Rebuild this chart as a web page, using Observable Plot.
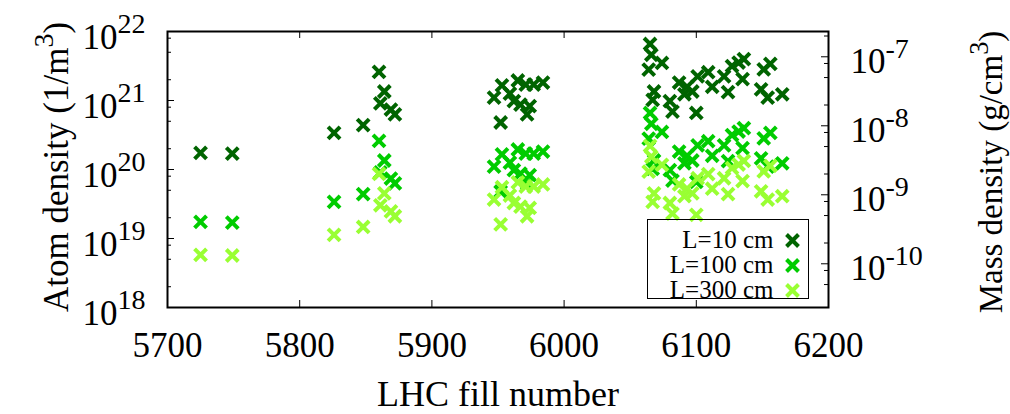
<!DOCTYPE html>
<html><head><meta charset="utf-8">
<script src="https://cdn.jsdelivr.net/npm/d3@7"></script>
<script src="https://cdn.jsdelivr.net/npm/@observablehq/plot@0.6"></script>
<style>html,body{margin:0;padding:0;background:#fff;} #chart{width:1010px;height:414px;}</style>
</head><body><div id="chart"></div>
<script>
// ---- data ----
const fills = [5725,5749, 5826,5848,5860,5864,5861,5869,5872,
  5947,5952,5953,5959,5962,5965,5967,5971,5972,5974,5977,5984,
  6065,6066,6074,6064,6068,6067,6080,6082,6087,6091,6093,6097,6101,6100,6109,6112,6121,6124,6127,6132,6135,6136,6151,6149,6154,6165,6156];
const atomL10 = [1.74e20,1.70e20, 3.4e20,4.4e20,2.6e21,1.35e21,9.1e20,7.4e20,6.3e20,
  1.10e21,4.8e20,1.66e21,1.26e21,9.8e20,1.95e21,8.7e20,1.70e21,6.3e20,8.3e20,1.70e21,1.82e21,
  6.6e21,4.6e21,3.5e21,2.8e21,1.35e21,1.02e21,9.8e20,6.9e20,1.82e21,1.23e21,1.58e21,1.35e21,2.24e21,6.6e20,2.57e21,1.58e21,2.24e21,1.32e21,3.16e21,3.55e21,2.04e21,3.98e21,2.82e21,1.45e21,1.10e21,1.23e21,3.39e21];
const atomL100 = [1.74e19,1.70e19, 3.4e19,4.4e19,2.6e20,1.35e20,9.1e19,7.4e19,6.3e19,
  1.10e20,4.8e19,1.66e20,1.26e20,9.8e19,1.95e20,8.7e19,1.70e20,6.3e19,8.3e19,1.70e20,1.82e20,
  6.6e20,4.6e20,3.5e20,2.8e20,1.35e20,1.02e20,9.8e19,6.9e19,1.82e20,1.23e20,1.58e20,1.35e20,2.24e20,6.6e19,2.57e20,1.58e20,2.24e20,1.32e20,3.16e20,3.55e20,2.04e20,3.98e20,2.82e20,1.45e20,1.10e20,1.23e20,3.39e20];
const atomL300 = [5.8e18,5.67e18, 1.13e19,1.47e19,8.67e19,4.5e19,3.03e19,2.47e19,2.1e19,
  3.67e19,1.6e19,5.53e19,4.2e19,3.27e19,6.5e19,2.9e19,5.67e19,2.1e19,2.77e19,5.67e19,6.07e19,
  2.2e20,1.53e20,1.17e20,9.33e19,4.5e19,3.4e19,3.27e19,2.3e19,6.07e19,4.1e19,5.27e19,4.5e19,7.47e19,2.2e19,8.57e19,5.27e19,7.47e19,4.4e19,1.05e20,1.18e20,6.8e19,1.33e20,9.4e19,4.83e19,3.67e19,4.1e19,1.13e20];
const seriesNames = ["L=10 cm", "L=100 cm", "L=300 cm"];
const seriesColors = ["#006400", "#00cc00", "#99ff33"];
const xTicks = [5700, 5800, 5900, 6000, 6100, 6200];
const yExponents = [18, 19, 20, 21, 22];
const y2Exponents = [-10, -9, -8, -7];
const minorMultipliers = [2, 5, 8];
const gramPerAtom = 2.325e-23; // conversion atom density -> mass density
const xTitle = "LHC fill number";
const yTitle = "Atom density (1/m^{3})";
const y2Title = "Mass density (g/cm^{3})";
// ---- layout ----
const W = 1010, H = 414, mL = 167, mR = 182, mT = 31, mB = 107;
const innerW = W - mL - mR, innerH = H - mT - mB;
const serif = "Liberation Serif, Times New Roman, serif";

const seriesValues = [atomL10, atomL100, atomL300];
const rows = seriesNames.flatMap((s, k) => fills.map((f, i) => ({fill: f, atom: seriesValues[k][i], series: s})));
const atomFromMass = m => m / (gramPerAtom * 1e-6);
const yMajor = yExponents.map(e => Math.pow(10, e));
const yMinor = yExponents.slice(0, -1).flatMap(e => minorMultipliers.map(k => k * Math.pow(10, e)));
const y2Major = y2Exponents.map(e => atomFromMass(Math.pow(10, e)));
const y2Minor = [y2Exponents[0] - 1, ...y2Exponents].flatMap(e => minorMultipliers.map(k => atomFromMass(k * Math.pow(10, e))))
  .filter(v => v >= 1e18 && v <= 1e22);
const legendTextDy = [-60, -35, -10];
const legendDotDy = [-67, -42, -17];

const chart = Plot.plot({
  width: W, height: H,
  marginLeft: mL, marginRight: mR, marginTop: mT, marginBottom: mB,
  style: {fontFamily: serif, background: "#fff", color: "#000", overflow: "visible"},
  x: {domain: [5700, 6200], axis: null},
  y: {type: "log", domain: [1e18, 1e22], axis: null},
  color: {domain: seriesNames, range: seriesColors},
  marks: [
    Plot.dot(rows, {x: "fill", y: "atom", stroke: "series", symbol: "times", r: 5.5, strokeWidth: 4}),
    Plot.frame({stroke: "#000", strokeWidth: 2}),
    Plot.tickX(xTicks, {x: d => d, insetTop: innerH - 7, stroke: "#000"}),
    Plot.tickX(xTicks, {x: d => d, insetBottom: innerH - 7, stroke: "#000"}),
    Plot.tickY(yMajor, {y: d => d, insetRight: innerW - 7, stroke: "#000"}),
    Plot.tickY(yMinor, {y: d => d, insetRight: innerW - 4, stroke: "#000"}),
    Plot.tickY(y2Major, {y: d => d, insetLeft: innerW - 7, stroke: "#000"}),
    Plot.tickY(y2Minor, {y: d => d, insetLeft: innerW - 4, stroke: "#000"}),
    Plot.text(xTicks, {x: d => d, text: d => String(d), frameAnchor: "bottom", dy: 49, fontSize: 35, fill: "#000"}),
    Plot.text(yMajor, {y: d => d, text: (d, i) => `10^{${yExponents[i]}}`, frameAnchor: "left", textAnchor: "end", dx: -22, dy: 6, fontSize: 35, fill: "#000"}),
    Plot.text(y2Major, {y: d => d, text: (d, i) => `10^{${y2Exponents[i]}}`, frameAnchor: "right", textAnchor: "start", dx: 22, dy: 5, fontSize: 35, fill: "#000"}),
    Plot.text([xTitle], {x: null, y: null, text: d => d, frameAnchor: "bottom", dy: 98, fontSize: 36, fill: "#000"}),
    Plot.text([yTitle], {x: null, y: null, text: d => d, frameAnchor: "left", rotate: -90, fontSize: 35, fill: "#000"}),
    Plot.text([y2Title], {x: null, y: null, text: d => d, frameAnchor: "right", rotate: -90, fontSize: 33, fill: "#000"}),
    Plot.frame({insetLeft: 480, insetTop: 188, insetRight: 20, insetBottom: 9, stroke: "#000", strokeWidth: 1}),
    ...seriesNames.flatMap((s, i) => [
      Plot.text([s], {x: null, y: null, text: d => d, frameAnchor: "bottom-right", textAnchor: "end", dx: -55, dy: legendTextDy[i], fontSize: 25, fill: "#000"}),
      Plot.dot([s], {x: null, y: null, frameAnchor: "bottom-right", dx: -36, dy: legendDotDy[i], stroke: d => d, symbol: "times", r: 5.5, strokeWidth: 4})
    ])
  ]
});

// title placement (rotated titles) and superscripts
const titlePlacement = {[yTitle]: [46, 167], [y2Title]: [981, 172]};
function finish(svg) {
  const NS = "http://www.w3.org/2000/svg";
  svg.querySelectorAll("text").forEach(t => {
    if (t.children.length) return;
    const content = t.textContent;
    if (titlePlacement[content]) {
      const [px, py] = titlePlacement[content];
      let ox = 0, oy = 0;
      const g = t.parentNode;
      const m = (g.getAttribute("transform") || "").match(/translate\(([-\d.]+),\s*([-\d.]+)\)/);
      if (m) { ox = +m[1]; oy = +m[2]; }
      t.setAttribute("transform", `translate(${px - ox},${py - oy}) rotate(-90)`);
      t.setAttribute("dy", "0.32em");
      t.setAttribute("text-anchor", "middle");
    }
    const m = content.match(/^(.*?)\^\{([^}]*)\}(.*)$/);
    if (!m) return;
    t.textContent = "";
    t.append(document.createTextNode(m[1]));
    const sup = document.createElementNS(NS, "tspan");
    sup.setAttribute("dy", "-0.55em");
    sup.setAttribute("font-size", "80%");
    sup.textContent = m[2];
    t.append(sup);
    if (m[3]) {
      const rest = document.createElementNS(NS, "tspan");
      rest.setAttribute("dy", "0.44em");
      rest.textContent = m[3];
      t.append(rest);
    }
  });
}
finish(chart);
document.getElementById("chart").append(chart);
</script>
</body></html>
